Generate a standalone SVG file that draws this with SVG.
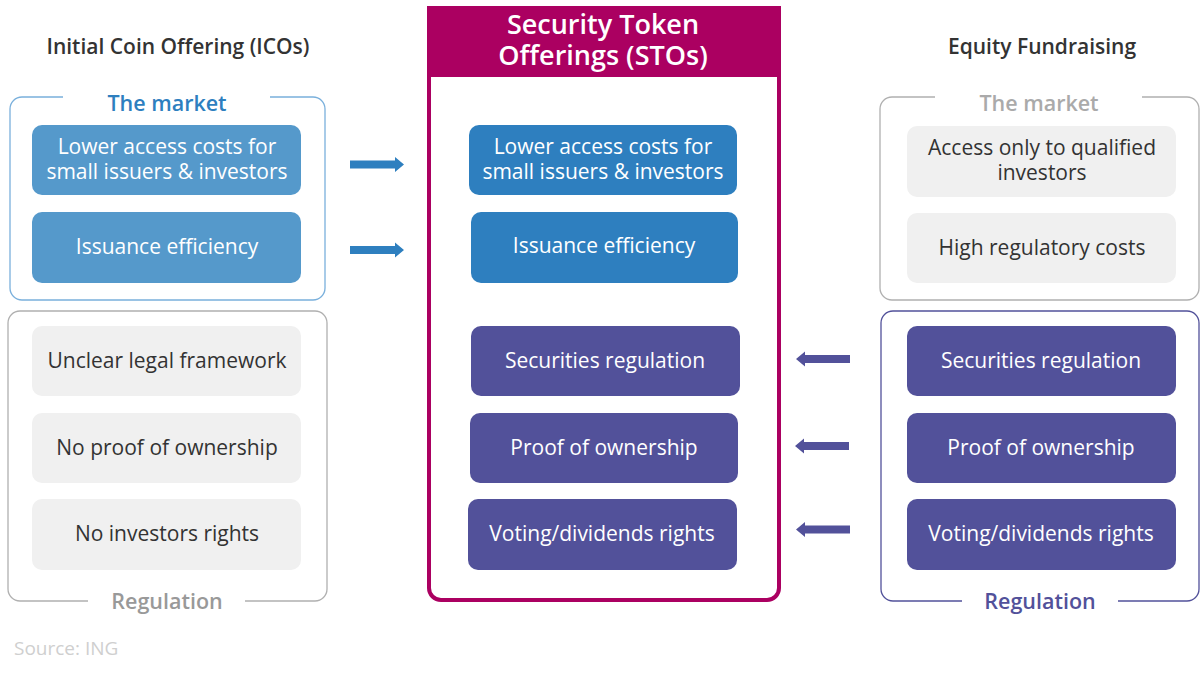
<svg xmlns="http://www.w3.org/2000/svg" width="1200" height="676" viewBox="0 0 1200 676">
<style>
text{font-family:"Open Sans","Noto Sans",sans-serif;text-anchor:middle}
.title{font-size:21px;font-weight:600;fill:#333}
.lbl{font-size:21.5px;font-weight:600}
.t{font-size:21px;fill:#fff}
.td{font-size:21px;fill:#333}
.lb{fill:#5599cb}
.mb{fill:#2e7fbf}
.pu{fill:#52519a}
.gr{fill:#f0f0f0}
</style>
<rect width="1200" height="676" fill="#fff"/>

<g id="ico">
<text class="title" x="178" y="54">Initial Coin Offering (ICOs)</text>
<path d="M63,97 H22 A12,12 0 0 0 10,109 V288 A12,12 0 0 0 22,300 H313 A12,12 0 0 0 325,288 V109 A12,12 0 0 0 313,97 H270" fill="none" stroke="#7ab0dc" stroke-width="1.3"/>
<text class="lbl" x="167" y="111" fill="#2e7fbf">The market</text>
<g id="ico-m1"><rect class="lb" x="32" y="125" width="269" height="70" rx="10"/><text class="t" x="167" y="154">Lower access costs for<tspan x="167" dy="25">small issuers &amp; investors</tspan></text></g>
<g id="ico-m2"><rect class="lb" x="32" y="212" width="269" height="71" rx="10"/><text class="t" x="167" y="254">Issuance efficiency</text></g>
<path d="M88,601 H20 A12,12 0 0 1 8,589 V323 A12,12 0 0 1 20,311 H315 A12,12 0 0 1 327,323 V589 A12,12 0 0 1 315,601 H245" fill="none" stroke="#b0b0b0" stroke-width="1.3"/>
<text class="lbl" x="167" y="609" fill="#999">Regulation</text>
<g id="ico-r1"><rect class="gr" x="32" y="326" width="269" height="70" rx="10"/><text class="td" x="167" y="368">Unclear legal framework</text></g>
<g id="ico-r2"><rect class="gr" x="32" y="413" width="269" height="70" rx="10"/><text class="td" x="167" y="455">No proof of ownership</text></g>
<g id="ico-r3"><rect class="gr" x="32" y="499" width="269" height="71" rx="10"/><text class="td" x="167" y="541">No investors rights</text></g>
</g>

<g id="sto">
<path d="M429,8 H779 V588 A12,12 0 0 1 767,600 H441 A12,12 0 0 1 429,588 Z" fill="none" stroke="#ab0061" stroke-width="4"/>
<rect x="427" y="8" width="354" height="69" fill="#ab0061"/>
<text x="603" y="34" style="font-size:27px;font-weight:600;fill:#fff">Security Token<tspan x="603" dy="31">Offerings (STOs)</tspan></text>
<g id="sto-m1"><rect class="mb" x="469" y="125" width="268" height="70" rx="10"/><text class="t" x="603" y="154">Lower access costs for<tspan x="603" dy="25">small issuers &amp; investors</tspan></text></g>
<g id="sto-m2"><rect class="mb" x="471" y="212" width="267" height="71" rx="10"/><text class="t" x="604" y="253">Issuance efficiency</text></g>
<g id="sto-r1"><rect class="pu" x="471" y="326" width="269" height="70" rx="10"/><text class="t" x="605" y="368">Securities regulation</text></g>
<g id="sto-r2"><rect class="pu" x="470" y="413" width="268" height="70" rx="10"/><text class="t" x="604" y="455">Proof of ownership</text></g>
<g id="sto-r3"><rect class="pu" x="468" y="499" width="269" height="71" rx="10"/><text class="t" x="602" y="541">Voting/dividends rights</text></g>
</g>

<g id="equity">
<text class="title" x="1042" y="54">Equity Fundraising</text>
<path d="M935,97 H892 A12,12 0 0 0 880,109 V288 A12,12 0 0 0 892,300 H1187 A12,12 0 0 0 1199,288 V109 A12,12 0 0 0 1187,97 H1142" fill="none" stroke="#b0b0b0" stroke-width="1.3"/>
<text class="lbl" x="1039" y="111" fill="#aaa">The market</text>
<g id="eq-m1"><rect class="gr" x="907" y="126" width="269" height="71" rx="10"/><text class="td" x="1042" y="155">Access only to qualified<tspan x="1042" dy="25">investors</tspan></text></g>
<g id="eq-m2"><rect class="gr" x="907" y="213" width="269" height="70" rx="10"/><text class="td" x="1042" y="255">High regulatory costs</text></g>
<path d="M962,601 H893 A12,12 0 0 1 881,589 V323 A12,12 0 0 1 893,311 H1187 A12,12 0 0 1 1199,323 V589 A12,12 0 0 1 1187,601 H1118" fill="none" stroke="#52519a" stroke-width="1.3"/>
<text class="lbl" x="1040" y="609" fill="#52519a">Regulation</text>
<g id="eq-r1"><rect class="pu" x="907" y="326" width="269" height="70" rx="10"/><text class="t" x="1041" y="368">Securities regulation</text></g>
<g id="eq-r2"><rect class="pu" x="907" y="413" width="269" height="70" rx="10"/><text class="t" x="1041" y="455">Proof of ownership</text></g>
<g id="eq-r3"><rect class="pu" x="907" y="499" width="269" height="71" rx="10"/><text class="t" x="1041" y="541">Voting/dividends rights</text></g>
</g>

<g id="connectors">
<path d="M350,160.5 H395 V157 L404,164.5 L395,172 V168.5 H350 Z" fill="#2e7fbf"/>
<path d="M350,246 H395 V242.5 L404,250 L395,257.5 V254 H350 Z" fill="#2e7fbf"/>
<path d="M850,355 H805 V351.5 L796,359 L805,366.5 V363 H850 Z" fill="#52519a"/>
<path d="M849,442 H804 V438.5 L795,446 L804,453.5 V450 H849 Z" fill="#52519a"/>
<path d="M850,525.5 H805 V522 L796,529.5 L805,537 V533.5 H850 Z" fill="#52519a"/>
</g>

<text x="14" y="655" style="font-size:19px;fill:#cfcfcf;text-anchor:start">Source: ING</text>
</svg>
